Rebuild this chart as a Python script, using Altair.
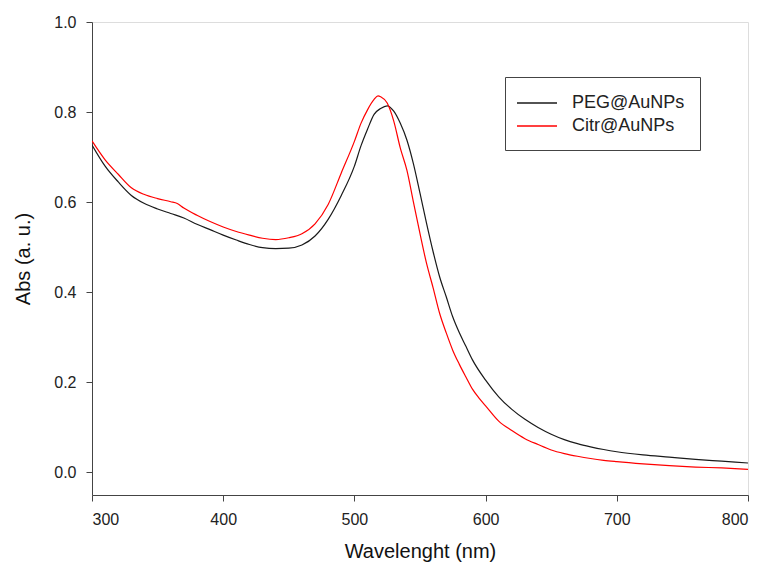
import altair as alt
import pandas as pd

# PEG@AuNPs
peg_wl = [300, 310, 320, 330, 340, 350, 360, 370, 380, 390, 400, 410, 420, 430, 440,
          450, 460, 470, 480, 490, 500, 505, 510, 515, 520, 525, 530, 535, 540, 545,
          550, 555, 560, 565, 570, 575, 580, 585, 590, 600, 610, 620, 630, 640, 650,
          660, 670, 680, 690, 700, 720, 740, 760, 780, 800]
peg_abs = [0.727, 0.680, 0.645, 0.615, 0.597, 0.585, 0.575, 0.565, 0.551, 0.539,
           0.527, 0.516, 0.506, 0.499, 0.497, 0.498, 0.505, 0.525, 0.562, 0.615,
           0.680, 0.725, 0.762, 0.795, 0.808, 0.814, 0.802, 0.775, 0.738, 0.685,
           0.620, 0.553, 0.490, 0.434, 0.390, 0.345, 0.310, 0.280, 0.250, 0.205,
           0.168, 0.140, 0.118, 0.100, 0.085, 0.073, 0.064, 0.057, 0.051, 0.046,
           0.039, 0.034, 0.029, 0.025, 0.021]

# Citr@AuNPs
citr_wl = [300, 310, 320, 330, 340, 350, 360, 365, 370, 380, 390, 400, 410, 420, 430,
           440, 450, 460, 470, 480, 490, 500, 505, 510, 515, 518, 520, 525, 530, 535,
           540, 545, 550, 555, 560, 565, 570, 575, 580, 585, 590, 595, 600, 610, 620,
           630, 640, 650, 660, 670, 680, 690, 700, 720, 740, 760, 780, 800]
citr_abs = [0.736, 0.694, 0.662, 0.632, 0.617, 0.608, 0.601, 0.597, 0.587, 0.571,
            0.557, 0.545, 0.535, 0.527, 0.520, 0.517, 0.521, 0.530, 0.552, 0.595,
            0.665, 0.735, 0.775, 0.805, 0.828, 0.836, 0.834, 0.820, 0.780, 0.720,
            0.671, 0.600, 0.530, 0.464, 0.410, 0.353, 0.310, 0.271, 0.240, 0.212,
            0.185, 0.165, 0.148, 0.114, 0.093, 0.075, 0.062, 0.050, 0.042, 0.036,
            0.031, 0.027, 0.024, 0.019, 0.015, 0.012, 0.010, 0.007]

series_names = ["PEG@AuNPs", "Citr@AuNPs"]
series_colors = ["#1a1a1a", "#ff0000"]
x_ticks = [300, 400, 500, 600, 700, 800]
y_ticks = [0.0, 0.2, 0.4, 0.6, 0.8, 1.0]

df = pd.concat([
    pd.DataFrame({"wl": peg_wl, "abs": peg_abs, "series": series_names[0], "order": 0}),
    pd.DataFrame({"wl": citr_wl, "abs": citr_abs, "series": series_names[1], "order": 1}),
])

FONT = "Liberation Sans"

axis_common = dict(grid=False, tickSize=6, domainColor="#444", tickColor="#444",
                   labelFontSize=16, titleFontSize=20, labelColor="#222",
                   titleColor="#111", titleFontWeight="normal",
                   labelFont=FONT, titleFont=FONT)

chart = alt.Chart(df).mark_line(strokeWidth=1.2, clip=True, interpolate="monotone").encode(
    x=alt.X("wl:Q", scale=alt.Scale(domain=[300, 800], nice=False, zero=False),
            axis=alt.Axis(values=x_ticks, title="Wavelenght (nm)", format="d",
                          labelPadding=10, titlePadding=14, **axis_common)),
    y=alt.Y("abs:Q", scale=alt.Scale(domain=[-0.05, 1.0], nice=False, zero=False),
            axis=alt.Axis(values=y_ticks, title="Abs (a. u.)", format=".1f",
                          labelPadding=10, titlePadding=20, **axis_common)),
    color=alt.Color("series:N",
                    scale=alt.Scale(domain=series_names, range=series_colors),
                    legend=alt.Legend(title=None, orient="none", legendX=413, legendY=55,
                                      symbolType="M-2,0H2", symbolSize=400,
                                      symbolStrokeWidth=1.3, labelFontSize=18,
                                      labelFont=FONT, labelColor="#222",
                                      labelOffset=24, padding=15, rowPadding=3,
                                      symbolOffset=6,
                                      strokeColor="#444", fillColor="white")),
    order="order:Q",
    detail="series:N",
).properties(
    width=656, height=473,
    autosize=alt.AutoSizeParams(type="none"),
    padding={"left": 84, "top": 14, "right": 5, "bottom": 70},
).configure_view(
    stroke="#444", strokeWidth=1.2
).configure(background="white")

chart.save("out.html", embed_options={"renderer": "svg", "actions": False})
